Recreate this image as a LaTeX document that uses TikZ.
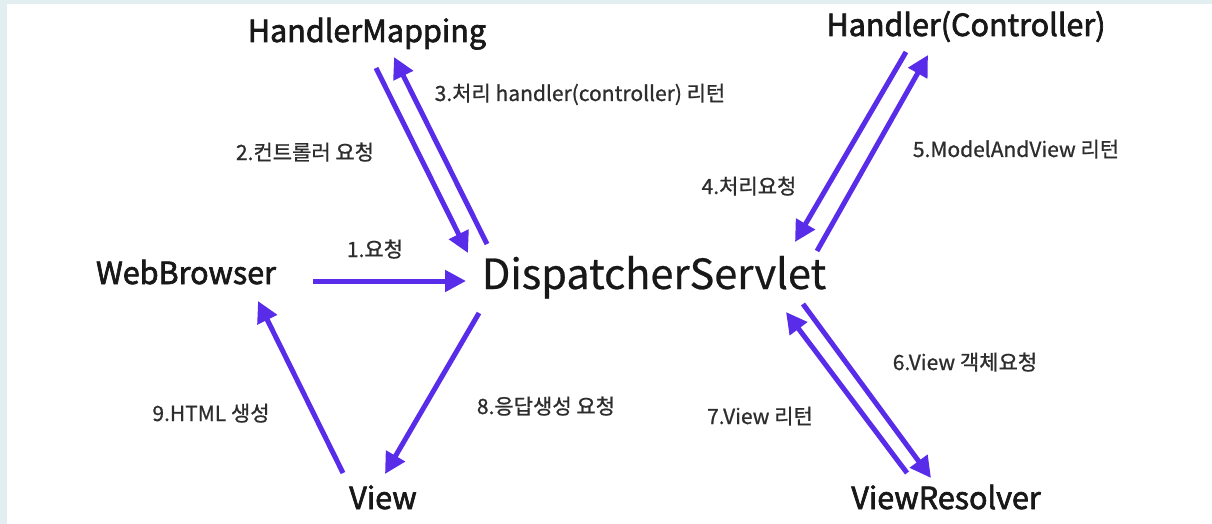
\documentclass[tikz,border=0pt]{standalone}
\usepackage{fontspec}
\setmainfont{Noto Sans CJK KR}
\newfontfamily\titlefont[FakeBold=2.2]{Noto Sans CJK KR}
\newfontfamily\hubfont[FakeBold=0.6]{Noto Sans CJK KR}
\newfontfamily\notefont[FakeBold=0.8]{Noto Sans CJK KR}
\usetikzlibrary{arrows.meta}
\definecolor{flow}{RGB}{88,44,232}
\definecolor{frame}{RGB}{227,238,241}
\definecolor{ink}{RGB}{24,24,24}
\definecolor{note}{RGB}{45,45,45}
\begin{document}
\begin{tikzpicture}[x=1pt,y=-1pt,
  comp/.style={anchor=base,inner sep=0pt,text=ink,font=\fontsize{30.5}{32}\titlefont},
  hub/.style={anchor=base,inner sep=0pt,text=ink,font=\fontsize{41.5}{44}\hubfont},
  lbl/.style={anchor=base,inner sep=0pt,text=note,font=\fontsize{21}{23}\notefont},
  flowarrow/.style={draw=flow,line width=5pt,-{Triangle[length=21pt,width=21pt]}}]
  % page with a pale frame on the left and top edges
  \fill[frame] (0,0) rectangle (1212,524);
  \fill[white] (7,4) rectangle (1212,524);
  \useasboundingbox (0,0) rectangle (1212,524);

  % components
  \node[comp] (hm)  at (367,42)  {HandlerMapping};
  \node[comp] (hc)  at (966,36)  {Handler(Controller)};
  \node[comp] (wb)  at (186,284) {WebBrowser};
  \node[hub]  (ds)  at (654,289) {DispatcherServlet};
  \node[comp] (vw)  at (383,509) {View};
  \node[comp] (vr)  at (946,509) {ViewResolver};

  % arrow end points
  \coordinate (wb-out)  at (313,281);
  \coordinate (ds-in1)  at (466,281);
  \coordinate (hm-out)  at (376,68);
  \coordinate (ds-in2)  at (468,253);
  \coordinate (ds-out3) at (487,244);
  \coordinate (hm-in)   at (394,57);
  \coordinate (hc-out)  at (906,52);
  \coordinate (ds-in4)  at (795,242);
  \coordinate (ds-out5) at (817,251);
  \coordinate (hc-in)   at (928,55);
  \coordinate (ds-out6) at (803,304);
  \coordinate (vr-in)   at (931,478);
  \coordinate (vr-out)  at (907,473);
  \coordinate (ds-in7)  at (786,312);
  \coordinate (ds-out8) at (479,313);
  \coordinate (vw-in)   at (385,474);
  \coordinate (vw-out)  at (343,473);
  \coordinate (wb-in)   at (258,301);

  % request / response flow
  \draw[flowarrow] (wb-out)  -- (ds-in1);
  \draw[flowarrow] (hm-out)  -- (ds-in2);
  \draw[flowarrow] (ds-out3) -- (hm-in);
  \draw[flowarrow] (hc-out)  -- (ds-in4);
  \draw[flowarrow] (ds-out5) -- (hc-in);
  \draw[flowarrow] (ds-out6) -- (vr-in);
  \draw[flowarrow] (vr-out)  -- (ds-in7);
  \draw[flowarrow] (ds-out8) -- (vw-in);
  \draw[flowarrow] (vw-out)  -- (wb-in);

  % step labels
  \node[lbl] (l1) at (375,257) {1.요청};
  \node[lbl] (l2) at (305,160) {2.컨트롤러 요청};
  \node[lbl] (l3) at (580,101) {3.처리 handler(controller) 리턴};
  \node[lbl] (l4) at (749,194) {4.처리요청};
  \node[lbl] (l5) at (1016,157) {5.ModelAndView 리턴};
  \node[lbl] (l6) at (965,370) {6.View 객체요청};
  \node[lbl] (l7) at (760,424) {7.View 리턴};
  \node[lbl] (l8) at (546,414) {8.응답생성 요청};
  \node[lbl] (l9) at (211,421) {9.HTML 생성};
\end{tikzpicture}
\end{document}
